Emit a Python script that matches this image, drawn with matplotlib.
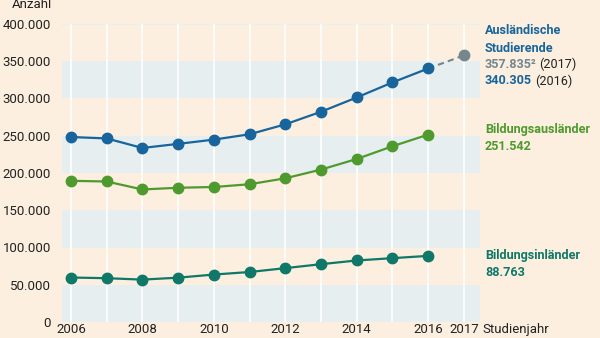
import matplotlib.pyplot as plt
import numpy as np

# data
years = np.arange(2006, 2017)
auslaendische = [248300, 246400, 233600, 239100, 244800, 252000, 265300, 282200, 301400, 321600, 340305]
bildungsauslaender = [189500, 188600, 177900, 180200, 181200, 184900, 192900, 204600, 218800, 235900, 251542]
bildungsinlaender = [59700, 58800, 56900, 59500, 63700, 67100, 72300, 77600, 82600, 85700, 88763]
prognose_years = [2016, 2017]
prognose_values = [340305, 357835]
yticks = np.arange(0, 400001, 50000)
xticks = [2006, 2008, 2010, 2012, 2014, 2016, 2017]

BG = "#fcefdf"
BAND = "#e6eef0"
BLUE = "#17659c"
GREEN = "#4f9a2f"
TEAL = "#0f7868"
GRAY = "#74878f"
DARK = "#222222"

plt.rcParams['font.family'] = ['Roboto', 'DejaVu Sans']

fig = plt.figure(figsize=(6, 3.38), dpi=100, facecolor=BG)
# axes: x from 62px to 480px, y from 24px to 322px
ax = fig.add_axes([62 / 600, 16 / 338, (480 - 62) / 600, (322 - 24) / 338])
ax.set_facecolor(BG)
ax.set_xlim(2005.75, 2017.45)
ax.set_ylim(0, 400000)

# horizontal bands
for lo in [0, 100000, 200000, 300000]:
    ax.axhspan(lo, lo + 50000, color=BAND, lw=0, zorder=0)
ax.axhline(400000, color=BAND, lw=1.5, zorder=0)

# vertical white gridlines
for yr in range(2006, 2018):
    ax.axvline(yr, color="white", lw=1.2, zorder=1)

# lines
ax.plot(prognose_years, prognose_values, color=GRAY, lw=1.5, ls=(0, (3, 2)), zorder=2)
ax.plot(2017, 357835, "o", color=GRAY, ms=7.5, zorder=3, clip_on=False)
ax.plot(years, auslaendische, "o-", color=BLUE, lw=1.6, ms=7.5, zorder=3, clip_on=False)
ax.plot(years, bildungsauslaender, "o-", color=GREEN, lw=1.6, ms=7.5, zorder=3, clip_on=False)
ax.plot(years, bildungsinlaender, "o-", color=TEAL, lw=1.6, ms=7.5, zorder=3, clip_on=False)

# axes styling
for s in ax.spines.values():
    s.set_visible(False)
ax.set_yticks(yticks)
ax.set_yticklabels(["0"] + [f"{v:,}".replace(",", ".") for v in yticks[1:]])
ax.set_xticks(xticks)
ax.set_xticklabels([str(x) for x in xticks])
ax.tick_params(length=0, labelsize=9.5, colors=DARK, pad=1)
ax.tick_params(axis="y", pad=8)

fig.text(52 / 600, 1 - 5 / 338, "Anzahl", ha="right", va="center", fontsize=9.5, color=DARK)
fig.text(482 / 600, 1 - 329 / 338, "Studienjahr", ha="left", va="center", fontsize=9.5, color=DARK)

# pick a label size so "Bildungsausländer" is about 106 px wide, like the reference
probe = fig.text(0, 0, "Bildungsausländer", fontsize=10, fontweight="bold")
fig.canvas.draw()
w = probe.get_window_extent().width
probe.remove()
fs = min(10.5, 10 * 106 / w)

x0 = 485 / 600
fig.text(x0, 1 - 31 / 338, "Ausländische", color=BLUE, fontsize=fs, fontweight="bold", va="center")
fig.text(x0, 1 - 48 / 338, "Studierende", color=BLUE, fontsize=fs, fontweight="bold", va="center")
t1 = fig.text(x0, 1 - 64 / 338, "357.835²", color=GRAY, fontsize=fs, fontweight="bold", va="center")
ax.annotate("(2017)", xy=(1, 0.5), xycoords=t1, xytext=(2, 0), textcoords="offset points",
            color=DARK, fontsize=fs, va="center", ha="left")
t2 = fig.text(x0, 1 - 81 / 338, "340.305", color=BLUE, fontsize=fs, fontweight="bold", va="center")
ax.annotate("(2016)", xy=(1, 0.5), xycoords=t2, xytext=(2, 0), textcoords="offset points",
            color=DARK, fontsize=fs, va="center", ha="left")

fig.text(x0, 1 - 130 / 338, "Bildungsausländer", color=GREEN, fontsize=fs, fontweight="bold", va="center")
fig.text(x0, 1 - 147 / 338, "251.542", color=GREEN, fontsize=fs, fontweight="bold", va="center")
fig.text(x0, 1 - 256 / 338, "Bildungsinländer", color=TEAL, fontsize=fs, fontweight="bold", va="center")
fig.text(x0, 1 - 273 / 338, "88.763", color=TEAL, fontsize=fs, fontweight="bold", va="center")

fig.savefig("out.png", dpi=100, facecolor=BG)
